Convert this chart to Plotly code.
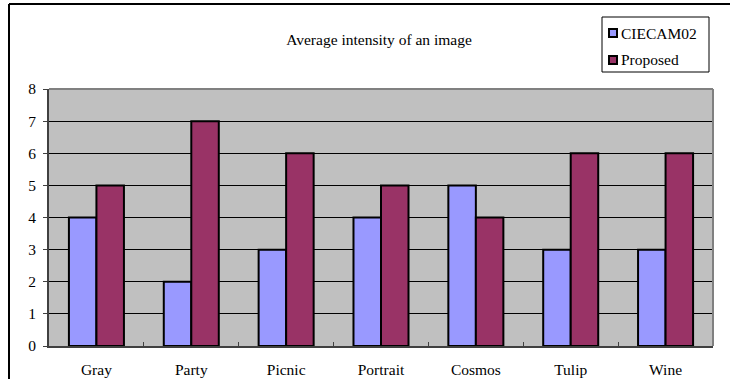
import plotly.graph_objects as go

categories = ["Gray", "Party", "Picnic", "Portrait", "Cosmos", "Tulip", "Wine"]
series_names = ["CIECAM02", "Proposed"]
ciecam02 = [4, 2, 3, 4, 5, 3, 3]
proposed = [5, 7, 6, 5, 4, 6, 6]
y_ticks = [0, 1, 2, 3, 4, 5, 6, 7, 8]
colors = ["#9999FF", "#993366"]

serif = "Liberation Serif"

fig = go.Figure()
for name, vals, col in zip(series_names, [ciecam02, proposed], colors):
    fig.add_trace(go.Bar(
        x=categories, y=vals, name=name, showlegend=False,
        marker=dict(color=col, line=dict(color="black", width=2)),
    ))

W, H = 730, 379
L, R, T, B = 49, 17, 89, 33
pw, ph = W - L - R, H - T - B


def px(x):
    return (x - L) / pw


def py(y):
    return (H - B - y) / ph


shapes = [
    # gray frame along the top and right of the plotting area
    dict(type="line", xref="paper", yref="paper", x0=0, x1=1, y0=1, y1=1,
         line=dict(color="#808080", width=2)),
    dict(type="line", xref="paper", yref="paper", x0=1, x1=1, y0=0, y1=1,
         line=dict(color="#808080", width=2)),
    # outer chart border
    dict(type="line", xref="paper", yref="paper", x0=px(9), x1=px(730), y0=py(4), y1=py(4),
         line=dict(color="black", width=2)),
    dict(type="line", xref="paper", yref="paper", x0=px(9), x1=px(9), y0=py(4), y1=py(379),
         line=dict(color="black", width=2)),
    # legend box
    dict(type="rect", xref="paper", yref="paper", x0=px(602), x1=px(709), y0=py(17), y1=py(72),
         line=dict(color="black", width=1), fillcolor="white"),
]
annotations = []
for i, (name, col) in enumerate(zip(series_names, colors)):
    cy = 33 + 27 * i
    shapes.append(dict(
        type="rect", xref="paper", yref="paper",
        x0=px(609), x1=px(617), y0=py(cy - 4), y1=py(cy + 4),
        line=dict(color="black", width=2), fillcolor=col,
    ))
    annotations.append(dict(
        text=name, xref="paper", yref="paper", x=px(619), y=py(cy),
        xanchor="left", yanchor="middle", showarrow=False,
        font=dict(family=serif, size=15.5, color="black"),
    ))

fig.update_layout(
    width=W, height=H,
    margin=dict(l=L, r=R, t=T, b=B, autoexpand=False),
    paper_bgcolor="white",
    plot_bgcolor="#C0C0C0",
    barmode="group",
    bargap=0.42,
    bargroupgap=0.0,
    font=dict(family=serif, size=15, color="black"),
    title=dict(
        text="Average intensity of an image",
        x=px(379), xref="paper", xanchor="center",
        y=1 - 40 / H, yanchor="middle",
        font=dict(family=serif, size=15.5, color="black"),
    ),
    xaxis=dict(
        automargin=False,
        showline=True, linecolor="#404040", linewidth=2,
        ticks="inside", ticklen=4, tickcolor="#404040",
        tickson="boundaries", showgrid=False,
        ticklabelstandoff=8,
        tickfont=dict(family=serif, size=15.5),
    ),
    yaxis=dict(
        automargin=False,
        range=[0, 8], tickvals=y_ticks, showline=True,
        linecolor="#404040", linewidth=2,
        ticks="outside", ticklen=4, tickcolor="#404040",
        showgrid=True, gridcolor="black", gridwidth=1,
        ticklabelstandoff=4,
        zeroline=False, tickfont=dict(family=serif, size=15.5),
    ),
    shapes=shapes,
    annotations=annotations,
)

fig.write_html("out.html")
